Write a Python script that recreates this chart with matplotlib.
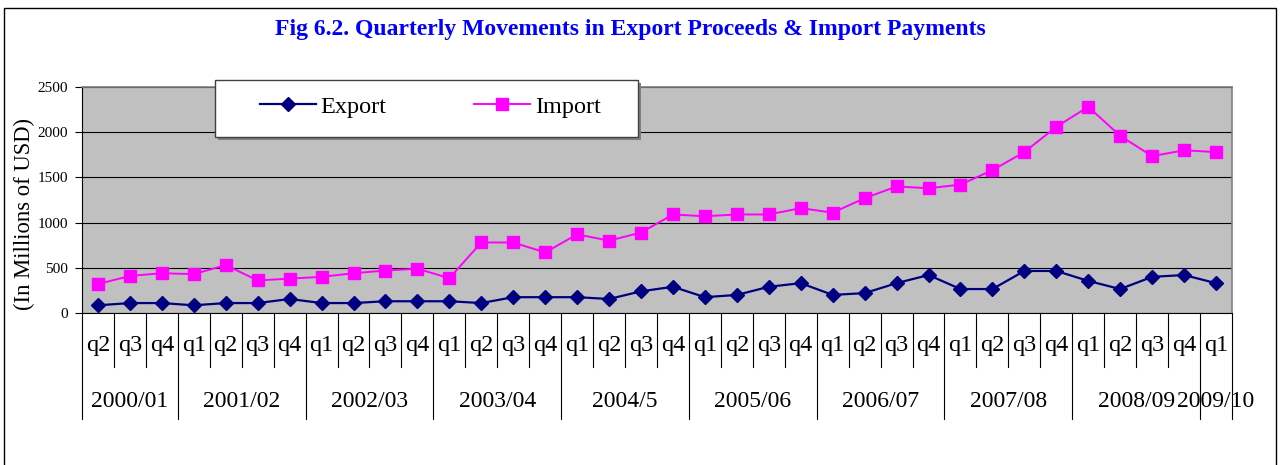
import matplotlib
matplotlib.use("Agg")
import matplotlib.pyplot as plt
import matplotlib.transforms as mtransforms
from matplotlib.patches import Rectangle

# quarters, fiscal years and values (millions of USD)
quarters = ["q2", "q3", "q4"] + ["q1", "q2", "q3", "q4"] * 8 + ["q1"]
years = ["2000/01", "2001/02", "2002/03", "2003/04", "2004/5",
         "2005/06", "2006/07", "2007/08", "2008/09", "2009/10"]
year_sizes = [3, 4, 4, 4, 4, 4, 4, 4, 4, 1]

export = [85, 110, 110, 85, 110, 110, 155, 110, 110, 130, 130, 130,
          110, 175, 175, 175, 155, 240, 290, 175, 200, 290, 330, 200,
          220, 330, 420, 265, 265, 465, 465, 355, 265, 400, 420, 330]
imports = [320, 410, 440, 430, 530, 360, 380, 400, 440, 470, 490, 385,
           780, 780, 670, 870, 800, 890, 1090, 1070, 1090, 1090, 1160, 1110,
           1270, 1400, 1380, 1420, 1580, 1780, 2060, 2280, 1960, 1735, 1800, 1780]

W, H = 1283, 465
plt.rcParams["font.family"] = ["Liberation Serif", "DejaVu Serif"]

fig = plt.figure(figsize=(W / 100, H / 100), dpi=100)
# outer frame (bottom edge falls outside the picture)
fig.patches.append(Rectangle((4 / W, -10 / H), 1272 / W, (457 + 10) / H, transform=fig.transFigure,
                             fill=False, edgecolor="black", linewidth=1))

ax = fig.add_axes([82 / W, (H - 313) / H, 1150 / W, 226 / H])
ax.set_facecolor("#C0C0C0")

x = list(range(len(quarters)))
ax.plot(x, export, color="#000080", marker="D", markersize=7, linewidth=1.6,
        label="Export", zorder=3)
ax.plot(x, imports, color="#FF00FF", marker="s", markersize=9, linewidth=1.4,
        label="Import", zorder=3)

ax.set_xlim(-0.5, len(quarters) - 0.5)
ax.set_ylim(0, 2500)
ax.set_yticks([0, 500, 1000, 1500, 2000, 2500])
ax.yaxis.grid(True, color="black", linewidth=0.8)
ax.set_axisbelow(True)
ax.tick_params(axis="y", labelsize=11, length=5, direction="out", width=0.8, pad=5)
ax.set_xticks([])
for s in ["top", "right"]:
    ax.spines[s].set_color("#808080")
    ax.spines[s].set_linewidth(1.2)
for s in ["left", "bottom"]:
    ax.spines[s].set_color("black")
    ax.spines[s].set_linewidth(0.8)

# category axis: quarter labels and fiscal year groups
trans = mtransforms.blended_transform_factory(ax.transData, ax.transAxes)
q_low = -54 / 226
y_low = -106 / 226
for i, q in enumerate(quarters):
    ax.text(i, -32 / 226, q, transform=trans, ha="center", va="center", fontsize=17.5)
edges = [-0.5]
for n in year_sizes:
    edges.append(edges[-1] + n)
for b in [i - 0.5 for i in range(len(quarters) + 1)]:
    low = y_low if b in edges else q_low
    ax.plot([b, b], [0, low], transform=trans, color="black", linewidth=0.8, clip_on=False)
for yr, a, b in zip(years, edges[:-1], edges[1:]):
    ax.text((a + b) / 2, -88 / 226, yr, transform=trans, ha="center", va="center", fontsize=17)

fig.text(24 / W, 1 - 214 / H, "(In Millions of USD)", rotation=90, ha="center", va="center",
         fontsize=16.3)
fig.text(630 / W, 1 - 30 / H, "Fig 6.2. Quarterly Movements in Export Proceeds & Import Payments",
         ha="center", va="center", fontsize=17, fontweight="bold", color="#0000FF")

# legend box drawn by hand, entries placed inside it
fig.patches.append(Rectangle((218 / W, 1 - 140 / H), 423 / W, 57 / H, transform=fig.transFigure,
                             facecolor="#808080", edgecolor="none"))
fig.patches.append(Rectangle((215 / W, 1 - 137 / H), 423 / W, 57 / H, transform=fig.transFigure,
                             facecolor="white", edgecolor="#404040", linewidth=1))
leg = fig.legend(loc="center left", bbox_to_anchor=(260 / W, 1 - 107 / H), ncol=2,
                 fontsize=17.5, handlelength=2.3, handletextpad=0.2, columnspacing=3.6,
                 frameon=False, borderpad=0, borderaxespad=0)

fig.savefig("out.png", dpi=100)
